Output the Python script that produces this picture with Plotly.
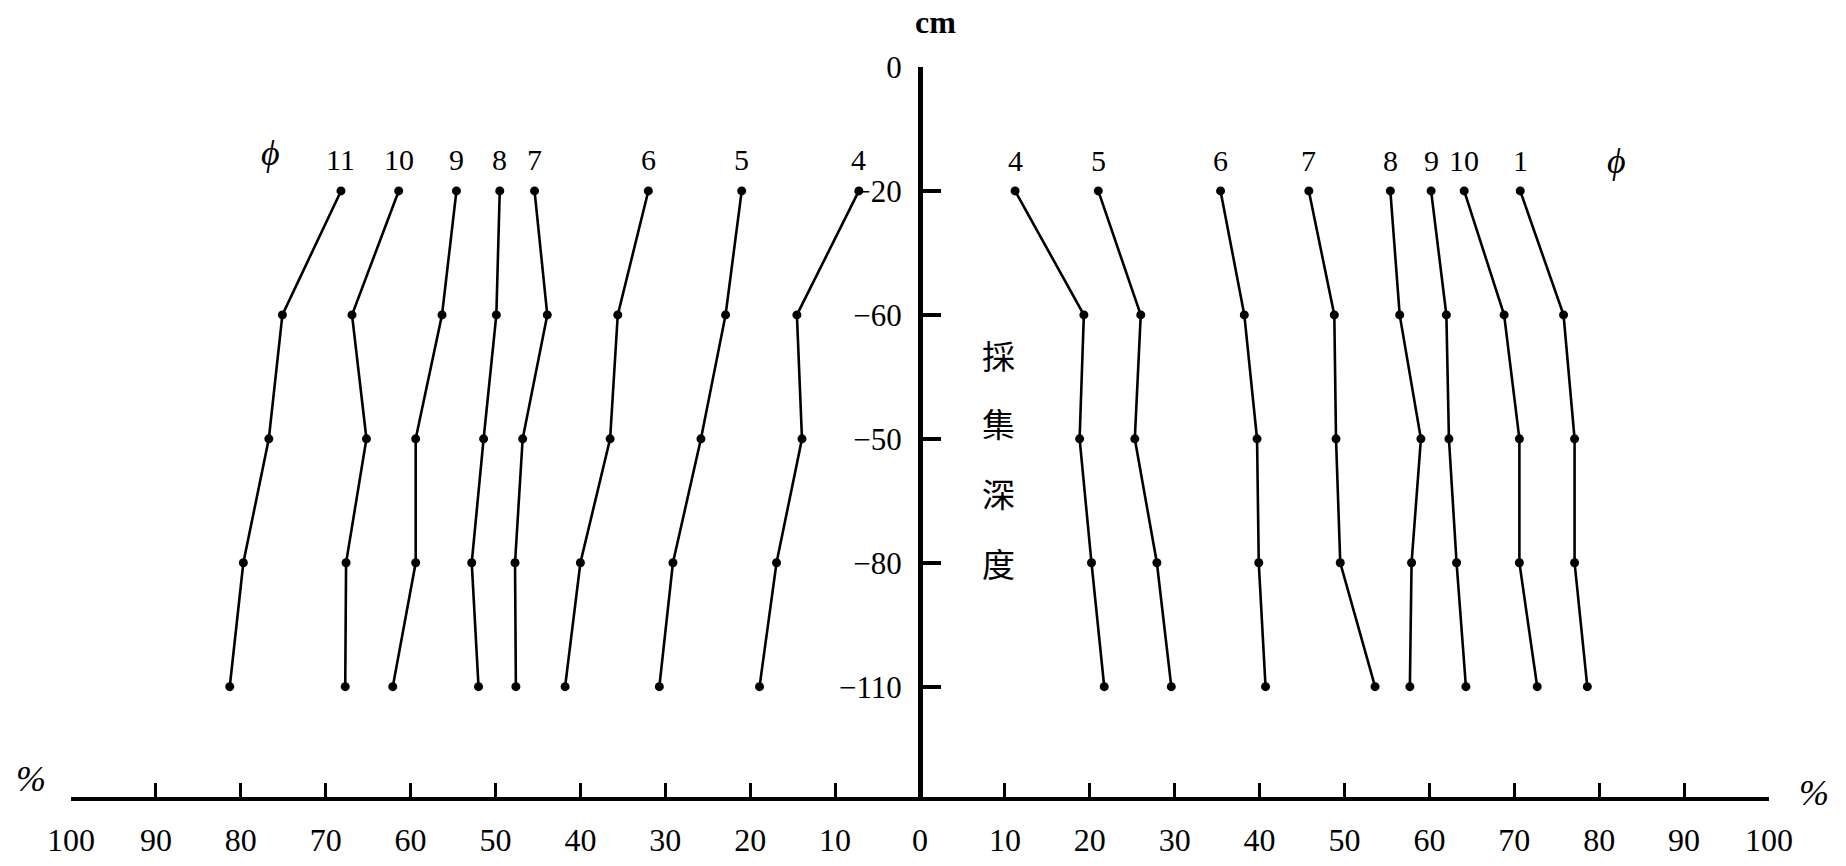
import plotly.graph_objects as go

# ---------------- data ----------------
depth_labels = ["0", "−20", "−60", "−50", "−80", "−110"]   # tick labels on the central axis (as printed)
sample_depths = ["−20", "−60", "−50", "−80", "−110"]       # depths at which points were sampled

# left side (percent, drawn leftwards)
left_names = ["11", "10", "9", "8", "7", "6", "5", "4"]
left_11 = [68.2, 75.1, 76.7, 79.7, 81.3]
left_10 = [61.4, 66.9, 65.2, 67.6, 67.7]
left_9 = [54.6, 56.3, 59.4, 59.4, 62.1]
left_8 = [49.5, 49.9, 51.4, 52.8, 52.0]
left_7 = [45.4, 43.9, 46.8, 47.7, 47.6]
left_6 = [32.0, 35.6, 36.5, 40.0, 41.8]
left_5 = [21.0, 22.9, 25.8, 29.1, 30.7]
left_4 = [7.2, 14.5, 13.9, 16.9, 18.9]

# right side (percent, drawn rightwards)
right_names = ["4", "5", "6", "7", "8", "9", "10", "1"]
right_4 = [11.2, 19.3, 18.8, 20.2, 21.7]
right_5 = [21.0, 26.0, 25.3, 27.9, 29.6]
right_6 = [35.4, 38.2, 39.7, 39.9, 40.7]
right_7 = [45.8, 48.8, 49.0, 49.5, 53.6]
right_8 = [55.4, 56.5, 59.0, 57.9, 57.7]
right_9 = [60.2, 62.0, 62.3, 63.2, 64.3]
right_10 = [64.1, 68.8, 70.6, 70.6, 72.7]
right_1 = [70.7, 75.8, 77.1, 77.1, 78.6]

x_ticks = list(range(-100, 101, 10))
x_tick_text = [str(abs(v)) for v in x_ticks]

left_series = [left_11, left_10, left_9, left_8, left_7, left_6, left_5, left_4]
right_series = [right_4, right_5, right_6, right_7, right_8, right_9, right_10, right_1]

# ---------------- figure ----------------
depth_pos = {lab: -i for i, lab in enumerate(depth_labels)}
ys = [depth_pos[d] for d in sample_depths]

SERIF = "Liberation Serif"
fig = go.Figure()

def add_series(vals, sign):
    fig.add_trace(go.Scatter(
        x=[sign * v for v in vals], y=ys, mode="lines+markers",
        line=dict(color="black", width=2.6),
        marker=dict(color="black", size=9, symbol="circle"),
        showlegend=False, hoverinfo="skip", cliponaxis=False))

for vals in left_series:
    add_series(vals, -1)
for vals in right_series:
    add_series(vals, 1)

annotations = []
# series labels above the top points
for name, vals in zip(left_names, left_series):
    annotations.append(dict(x=-vals[0], y=ys[0], text=name, showarrow=False,
                            yshift=31, font=dict(family=SERIF, size=30, color="black")))
for name, vals in zip(right_names, right_series):
    annotations.append(dict(x=vals[0], y=ys[0], text=name, showarrow=False,
                            yshift=30, font=dict(family=SERIF, size=30, color="black")))

# phi labels
annotations.append(dict(x=-76.5, y=-0.69, text="<i>ϕ</i>", showarrow=False,
                        font=dict(family=SERIF, size=36, color="black")))
annotations.append(dict(x=82.0, y=-0.76, text="<i>ϕ</i>", showarrow=False,
                        font=dict(family=SERIF, size=36, color="black")))
# percent labels (outside the plotting area -> paper coordinates)
annotations.append(dict(xref="paper", yref="paper", x=-0.0236, y=0.024, text="<i>%</i>",
                        xanchor="center", yanchor="middle",
                        showarrow=False, font=dict(family=SERIF, size=36, color="black")))
annotations.append(dict(xref="paper", yref="paper", x=1.0265, y=0.006, text="<i>%</i>",
                        xanchor="center", yanchor="middle",
                        showarrow=False, font=dict(family=SERIF, size=36, color="black")))
# unit
annotations.append(dict(xref="paper", yref="paper", x=0.5094, y=1.062, text="<b>cm</b>",
                        xanchor="center", yanchor="middle",
                        showarrow=False, font=dict(family=SERIF, size=32, color="black")))
# vertical title 採集深度
for ch, yy in zip("採集深度", [-2.32, -2.87, -3.44, -4.00]):
    annotations.append(dict(x=9.3, y=yy, text=ch, showarrow=False,
                            font=dict(family="Noto Sans CJK TC", size=33, color="black")))

fig.update_layout(
    width=1846, height=866,
    margin=dict(l=71, r=77, t=67, b=69, autoexpand=False),
    paper_bgcolor="white", plot_bgcolor="white",
    annotations=annotations,
    xaxis=dict(range=[-100, 100], tickvals=x_ticks, ticktext=x_tick_text,
               showgrid=False, zeroline=False, showline=True, linecolor="black", linewidth=4,
               ticks="inside", ticklen=14, tickwidth=3, tickcolor="black",
               ticklabelstandoff=12,
               tickfont=dict(family=SERIF, size=32, color="black"),
               fixedrange=True, automargin=False),
    yaxis=dict(range=[-5.89, 0], tickvals=[depth_pos[d] for d in depth_labels], ticktext=depth_labels,
               anchor="free", position=0.5, side="left",
               showgrid=False, zeroline=False, showline=True, linecolor="black", linewidth=5,
               ticks="inside", ticklen=18, tickwidth=4, tickcolor="black",
               ticklabelstandoff=10,
               tickfont=dict(family=SERIF, size=31, color="black"),
               fixedrange=True, automargin=False),
)

fig.write_html("out.html")
